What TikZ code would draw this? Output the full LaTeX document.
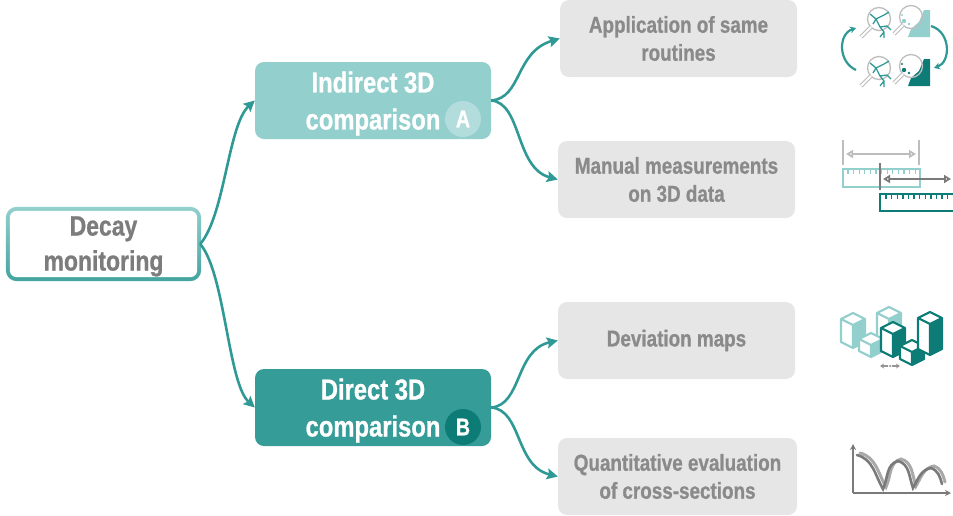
\documentclass[tikz,border=0pt]{standalone}
\usepackage{fontspec}
\setmainfont{Liberation Sans Bold}[FakeStretch=0.82, FakeBold=0.8]
\usetikzlibrary{arrows.meta,calc,backgrounds}

\definecolor{tealpale}{HTML}{93CFCD}
\definecolor{tealmid}{HTML}{359C98}
\definecolor{tealdark}{HTML}{0E7C76}
\definecolor{linkteal}{HTML}{2F9A95}
\definecolor{boxgrey}{HTML}{E6E6E6}
\definecolor{textgrey}{HTML}{8A8A8A}
\definecolor{lensgrey}{HTML}{BDBDBD}
\definecolor{axisgrey}{HTML}{7A7A7A}

\tikzset{
  rootbox/.style={minimum width=195pt, minimum height=74pt, align=center,
    text=textgrey!90!black, font=\fontsize{28}{35}\selectfont},
  topic/.style={rounded corners=9pt, minimum width=236pt, minimum height=77pt,
    align=center, text=white, font=\fontsize{29}{37}\selectfont},
  leaf/.style={rounded corners=9pt, fill=boxgrey, minimum width=237pt,
    minimum height=77pt, align=center, text=textgrey,
    font=\fontsize{23}{28}\selectfont},
  badge/.style={circle, minimum size=36pt, inner sep=0pt, text=white,
    font=\fontsize{24}{24}\selectfont},
  link/.style={linkteal, line width=2.6pt, -{Stealth[length=11pt,width=11pt,inset=2pt]}},
  handle/.style={lensgrey, line width=1.1pt, double=white, double distance=1.8pt},
  crack/.style={#1, line width=1.3pt, line join=round},
  pics/isobox/.style args={#1/#2}{code={
    \filldraw[#2, line width=2.2pt, fill=white, line join=round]
      (0,0) -- (12,6) -- (12,{6+#1}) -- (0,{12+#1}) -- (-12,{6+#1}) -- (-12,6) -- cycle;
    \fill[#2] (0,12) -- (12,6) -- (12,{6+#1}) -- (0,{12+#1}) -- cycle;
    \draw[#2, line width=2.2pt, line join=round] (-12,6) -- (0,12) -- (12,6) (0,12) -- (0,{12+#1});
  }},
}

\begin{document}
\begin{tikzpicture}[x=1pt,y=-1pt]
\useasboundingbox (0,0) rectangle (953,515);

% mind map
\node[rootbox] (dm) at (103.5,244) {\rule{0pt}{24pt}Decay\\monitoring};
\begin{scope}[on background layer]
  \shade[top color=tealpale, bottom color=tealmid!85!tealpale, rounded corners=11pt]
    (dm.north west) rectangle (dm.south east);
  \fill[white, rounded corners=7pt] ($(dm.north west)+(4,4)$) rectangle ($(dm.south east)+(-4,-4)$);
\end{scope}

\node[topic, fill=tealpale] (ind) at (373,100.5) {\rule{0pt}{27pt}Indirect 3D\\comparison};
\node[topic, fill=tealmid] (dir) at (373,407.5) {\rule{0pt}{27pt}Direct 3D\\comparison};
\node[badge, fill=white!30!tealpale] (ba) at (463,119) {A};
\node[badge, fill=tealdark] (bb) at (463,427) {B};

\node[leaf] (app) at (678.5,38.5) {Application of same\\routines};
\node[leaf] (man) at (676.5,179.5) {Manual measurements\\on 3D data};
\node[leaf] (dev) at (676.5,340.5) {Deviation maps};
\node[leaf, minimum width=239pt] (qua) at (677.5,476.5) {Quantitative evaluation\\of cross-sections};

\draw[link] ($(dm.east)+(-1,0)$) .. controls (225,215) and (228,125) .. (ind.west);
\draw[link] ($(dm.east)+(-1,0)$) .. controls (225,273) and (228,383) .. (dir.west);
\draw[link] (ind.east) .. controls (522,98) and (515,52) .. (app.west);
\draw[link] (ind.east) .. controls (522,103) and (515,168) .. (man.west);
\draw[link] (dir.east) .. controls (522,405) and (515,350) .. (dev.west);
\draw[link] (dir.east) .. controls (522,410) and (515,466) .. (qua.west);

% icon: same routines
\foreach \dy/\patch in {0/tealpale, 49/tealdark} {
  \begin{scope}[shift={(0,\dy)}]
    \fill[\patch] (924,10) -- (930,10) -- (930,37) -- (908,37) -- (911,29) -- (919,22) -- cycle;
    \fill[\patch] (904,21) circle (2.2) (909,24) circle (1.4) (902,15) circle (1.1);
    \draw[lensgrey, line width=1.3pt] (879,19) circle (11.5) (911,17) circle (11.5);
    \draw[handle] (871,27) -- (861,37) (903,25) -- (894,34);
    \draw[crack=linkteal] (870,14) -- (876,19) -- (884,15) -- (889,12)
      (876,19) -- (880,27) -- (884,32) -- (884,38) (880,27) -- (887,26) -- (891,30)
      (884,32) -- (880,37) (873,24) -- (876,19);
  \end{scope}
}
\draw[linkteal, line width=2.2pt, -{Stealth[length=6pt,width=7pt]}]
  (856,70) .. controls (838,62) and (838,34) .. (856,28);
\draw[linkteal, line width=2.2pt, -{Stealth[length=6pt,width=7pt]}]
  (931,26) .. controls (951,32) and (951,62) .. (934,68);

% icon: rulers
\draw[tealpale, line width=1.6pt] (843,169) rectangle (920,187);
\foreach \i in {0,...,12}
  \draw[tealpale, line width=1.3pt] ({848+5.6*\i},169) -- ++(0,4.5);
\draw[tealdark, line width=1.8pt] (880,194) rectangle (965,211);
\foreach \i in {0,...,12}
  \draw[tealdark, line width=1.4pt] ({886+5.6*\i},194) -- ++(0,5);
\draw[lensgrey, line width=1.8pt] (843,140) -- (843,165) (919,140) -- (919,165);
\draw[lensgrey, line width=1.8pt, {Triangle[open,length=7pt,width=8pt]}-{Triangle[open,length=7pt,width=8pt]}]
  (846,154) -- (916,154);
\draw[axisgrey, line width=1.8pt] (880,163) -- (880,190);
\draw[axisgrey, line width=1.8pt, {Triangle[open,length=7pt,width=8pt]}-{Triangle[open,length=7pt,width=8pt]}]
  (883,179) -- (951,179);

% icon: deviation map
\foreach \x/\y/\h/\c in {853/313/23/tealpale, 889/307/25/tealpale, 871/333/12/tealpale,
                         893/322/23/tealdark, 912/340/13/tealdark, 930/312/31/tealdark}
  \pic at (\x,\y) {isobox=\h/\c};
\draw[axisgrey!80, line width=1.4pt, {Stealth[length=4pt,width=5pt]}-{Stealth[length=4pt,width=5pt]}] (880,366) -- (900,366);
\fill[white] (890,366) circle (2);
\fill[axisgrey] (890,366) circle (1);

% icon: cross-sections
\draw[axisgrey!65, line width=3pt, line cap=round]
  (860,453) to[out=-15,in=120] (886,487) to[out=65,in=195] (901,459)
  to[out=-15,in=110] (916,486) to[out=60,in=190] (934,466) to[out=-20,in=105] (945,482);
\draw[axisgrey, line width=2.6pt, line cap=round]
  (857,455) to[out=-15,in=120] (883,489) to[out=65,in=195] (898,461)
  to[out=-15,in=110] (913,488) to[out=60,in=190] (931,468) to[out=-20,in=105] (942,484);
\draw[axisgrey, line width=1.6pt, -{Stealth[length=6pt,width=6pt]}] (853,493) -- (853,444);
\draw[axisgrey, line width=1.6pt, -{Stealth[length=6pt,width=6pt]}] (853,493) -- (951,493);
\end{tikzpicture}
\end{document}
